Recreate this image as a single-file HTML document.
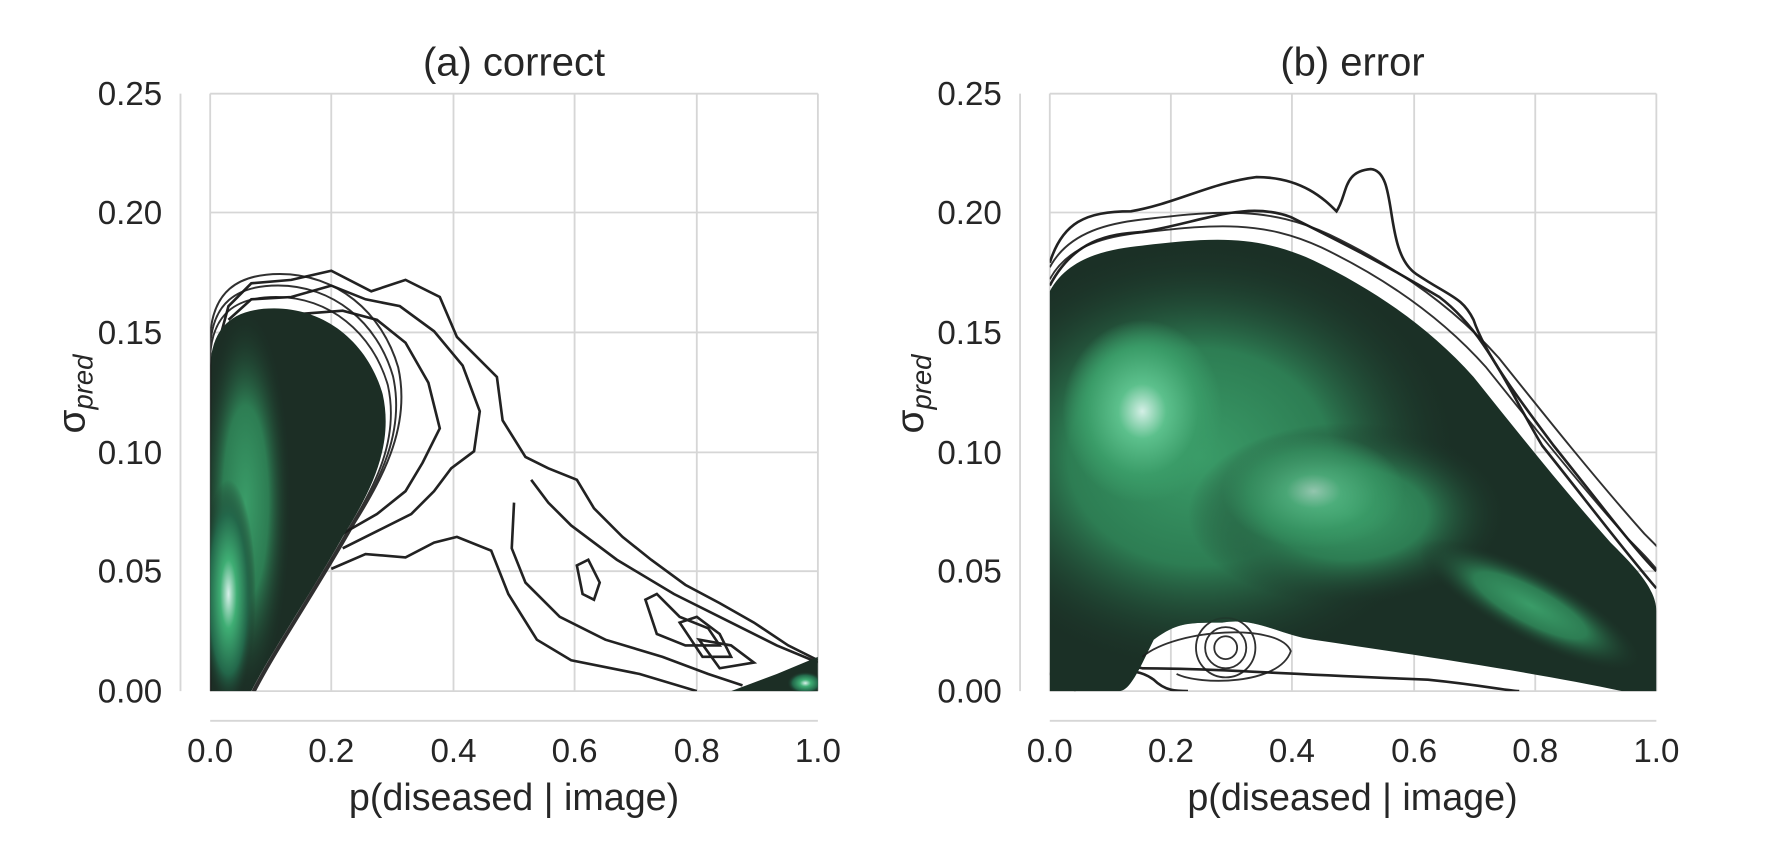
<!DOCTYPE html>
<html><head><meta charset="utf-8"><style>
html,body{margin:0;padding:0;background:#fff;}
svg{display:block}
text{font-family:"Liberation Sans",sans-serif;fill:#262626}
</style></head><body>
<svg width="1782" height="862" viewBox="0 0 1560 754.6" xmlns="http://www.w3.org/2000/svg">
<defs>
<radialGradient id="gL" cx="0.5" cy="0.5" r="0.5">
<stop offset="0" stop-color="#d8f0ea"/><stop offset="0.3" stop-color="#3fae74"/><stop offset="0.7" stop-color="#23674a"/><stop offset="1" stop-color="#1c2e25" stop-opacity="0"/>
</radialGradient>
<radialGradient id="gG" cx="0.5" cy="0.5" r="0.5">
<stop offset="0" stop-color="#3a9c68"/><stop offset="0.5" stop-color="#2d7d53"/><stop offset="1" stop-color="#1b3026" stop-opacity="0"/>
</radialGradient>
<radialGradient id="gR" cx="0.5" cy="0.5" r="0.5">
<stop offset="0" stop-color="#d4efe6"/><stop offset="0.3" stop-color="#5cc08c"/><stop offset="0.7" stop-color="#3a9c68"/><stop offset="1" stop-color="#3a9c68" stop-opacity="0"/>
</radialGradient>
<clipPath id="cL"><rect x="184" y="82" width="532" height="523"/></clipPath>
<clipPath id="cR"><rect x="919" y="82" width="531" height="523"/></clipPath>
<clipPath id="fR"><path d="M919,605 L919,255 C935,225 970,218 1000,215 C1060,208 1100,205 1150,228 C1200,252 1250,285 1290,330 C1330,380 1370,430 1410,475 C1430,495 1450,515 1450,535 L1450,605 L1420,605 C1350,590 1250,575 1150,560 C1120,556 1100,540 1070,545 C1040,545 1030,545 1010,560 C1000,580 990,605 980,605 Z"/></clipPath>
<clipPath id="fL"><path d="M184,605 L184,320 C186,285 205,270 240,270 C285,270 322,300 335,345 C345,390 325,430 300,470 C272,520 238,570 220,605 Z"/></clipPath>
</defs>
<g stroke="#d6d6d6" stroke-width="1.6">
<path d="M184,82V605M290,82V605M397,82V605M503,82V605M610,82V605M716,82V605M184,82H716M184,186H716M184,291H716M184,396H716M184,500H716M184,605H716"/>
<path d="M919,82V605M1025,82V605M1131,82V605M1238,82V605M1344,82V605M1450,82V605M919,82H1450M919,186H1450M919,291H1450M919,396H1450M919,500H1450M919,605H1450"/>
<path d="M158,82V605M184,631H716M893,82V605M919,631H1450"/>
</g>
<g clip-path="url(#cL)">
<g fill="none" stroke="#222" stroke-width="2.3">
<path d="M290,498 L320,485 355,488 380,475 400,470 430,482 445,520 470,560 500,578 560,590 610,605 M716,578 L690,565 660,545 630,528 600,512 570,490 545,470 520,445 505,420 480,410 460,400 440,368 435,330 400,295 385,260 355,245 325,255 290,237 255,245 220,248 200,268 186,320"/>
<path d="M300,480 L330,465 360,450 380,430 395,410 415,395 420,360 405,320 380,290 350,268 320,262 290,250 255,260 220,262 200,280"/>
<path d="M295,470 L330,450 355,430 370,405 385,375 375,335 355,300 330,280 300,272 260,275 225,280"/>
<path d="M450,440 L448,480 460,510 490,540 530,560 580,575 620,590 650,600 M465,420 L480,440 500,460 540,490 590,520 640,545 680,565 716,580"/>
<path d="M505,495 L515,490 525,510 520,525 510,520Z"/>
<path d="M565,525 L575,520 595,540 620,550 630,565 600,565 575,555Z"/>
<path d="M595,545 L610,540 630,555 640,575 615,575Z"/>
<path d="M612,560 L640,565 660,580 630,585Z"/>
</g>
<path d="M184,605 L184,320 C186,285 205,270 240,270 C285,270 322,300 335,345 C345,390 325,430 300,470 C272,520 238,570 220,605 Z" fill="#1c2e25"/>
<g fill="none" stroke="#1a1a1a" stroke-width="1.6" opacity="0.9">
<path d="M184,605 L184,320 C186,285 205,270 240,270 C285,270 322,300 335,345 C345,390 325,430 300,470 C272,520 238,570 220,605" transform="translate(184,605) scale(1.03) translate(-184,-605)"/>
<path d="M184,605 L184,320 C186,285 205,270 240,270 C285,270 322,300 335,345 C345,390 325,430 300,470 C272,520 238,570 220,605" transform="translate(184,605) scale(1.06) translate(-184,-605)"/>
<path d="M184,605 L184,320 C186,285 205,270 240,270 C285,270 322,300 335,345 C345,390 325,430 300,470 C272,520 238,570 220,605" transform="translate(184,605) scale(1.09) translate(-184,-605)"/>
</g>
<g clip-path="url(#fL)">
<ellipse cx="215" cy="440" rx="40" ry="170" fill="url(#gG)"/>
<ellipse cx="200" cy="520" rx="24" ry="100" fill="url(#gL)"/>
</g>
<path d="M640,605 L680,590 716,575 716,605Z" fill="#1c2e25"/>
<ellipse cx="705" cy="598" rx="16" ry="10" fill="url(#gL)"/>
</g>
<g clip-path="url(#cR)">
<g fill="none" stroke="#222" stroke-width="2.3">
<path d="M919,230 C930,195 950,185 990,185 C1030,178 1060,160 1100,155 C1140,155 1160,175 1170,185 C1180,170 1175,150 1200,148 C1225,150 1210,220 1240,240 C1270,260 1280,260 1290,280 C1300,310 1330,350 1360,390 C1400,440 1430,480 1450,500"/>
<path d="M919,250 C940,210 970,205 1000,203 C1050,195 1090,175 1130,190 C1170,210 1210,230 1260,260 C1300,290 1320,340 1350,390 C1390,440 1420,480 1450,515"/>
<path d="M919,590 C960,590 980,580 1000,585 C1060,585 1120,590 1250,595 C1300,600 1320,605 1330,605"/>
<path d="M940,605 C960,590 990,580 1010,595 C1020,605 1030,605 1040,605"/>
</g>
<path d="M919,605 L919,255 C935,225 970,218 1000,215 C1060,208 1100,205 1150,228 C1200,252 1250,285 1290,330 C1330,380 1370,430 1410,475 C1430,495 1450,515 1450,535 L1450,605 L1420,605 C1350,590 1250,575 1150,560 C1120,556 1100,540 1070,545 C1040,545 1030,545 1010,560 C1000,580 990,605 980,605 Z" fill="#1b3026"/>
<g fill="none" stroke="#1a1a1a" stroke-width="1.6" opacity="0.9">
<path d="M919,255 C935,225 970,218 1000,215 C1060,208 1100,205 1150,228 C1200,252 1250,285 1290,330 C1330,380 1370,430 1410,475 C1430,495 1450,515 1450,535" transform="translate(919,605) scale(1.03) translate(-919,-605)"/>
<path d="M919,255 C935,225 970,218 1000,215 C1060,208 1100,205 1150,228 C1200,252 1250,285 1290,330 C1330,380 1370,430 1410,475 C1430,495 1450,515 1450,535" transform="translate(919,605) scale(1.06) translate(-919,-605)"/>
<circle cx="1073" cy="567" r="10"/><circle cx="1073" cy="567" r="18"/><circle cx="1073" cy="567" r="26"/>
<path d="M1000,575 C1030,550 1120,545 1130,570 C1120,600 1050,600 1030,590"/>
</g>
<g clip-path="url(#fR)">
<ellipse cx="1050" cy="400" rx="230" ry="190" fill="url(#gG)"/>
<ellipse cx="1180" cy="450" rx="140" ry="80" fill="url(#gG)"/>
<ellipse cx="1000" cy="360" rx="70" ry="80" fill="url(#gR)"/>
<ellipse cx="1150" cy="430" rx="80" ry="50" fill="url(#gR)" opacity="0.6"/>
<ellipse cx="1340" cy="530" rx="110" ry="30" fill="url(#gG)" transform="rotate(28 1340 530)"/>
</g>
</g>
<g font-size="29" text-anchor="end">
<text x="142" y="92">0.25</text><text x="142" y="196">0.20</text><text x="142" y="301">0.15</text><text x="142" y="406">0.10</text><text x="142" y="510">0.05</text><text x="142" y="615">0.00</text>
<text x="877" y="92">0.25</text><text x="877" y="196">0.20</text><text x="877" y="301">0.15</text><text x="877" y="406">0.10</text><text x="877" y="510">0.05</text><text x="877" y="615">0.00</text>
</g>
<g font-size="29" text-anchor="middle">
<text x="184" y="667">0.0</text><text x="290" y="667">0.2</text><text x="397" y="667">0.4</text><text x="503" y="667">0.6</text><text x="610" y="667">0.8</text><text x="716" y="667">1.0</text>
<text x="919" y="667">0.0</text><text x="1025" y="667">0.2</text><text x="1131" y="667">0.4</text><text x="1238" y="667">0.6</text><text x="1344" y="667">0.8</text><text x="1450" y="667">1.0</text>
<text x="450" y="709" font-size="33">p(diseased | image)</text>
<text x="1184" y="709" font-size="33">p(diseased | image)</text>
<text x="450" y="66" font-size="35">(a) correct</text>
<text x="1184" y="66" font-size="35">(b) error</text>
</g>
<text transform="translate(74,345) rotate(-90)" text-anchor="middle" font-size="34">σ<tspan font-size="24" font-style="italic" dy="7">pred</tspan></text>
<text transform="translate(808,345) rotate(-90)" text-anchor="middle" font-size="34">σ<tspan font-size="24" font-style="italic" dy="7">pred</tspan></text>
</svg>
</body></html>
